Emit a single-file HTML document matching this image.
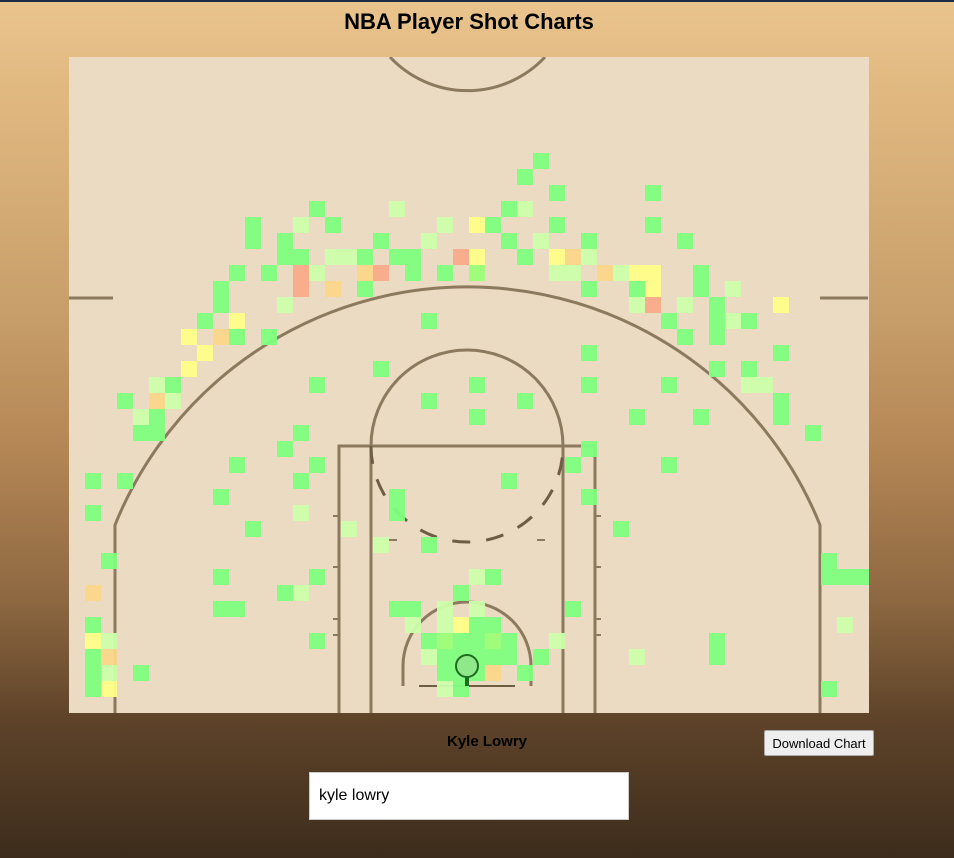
<!DOCTYPE html>
<html><head><meta charset="utf-8"><style>
html,body{margin:0;padding:0;}
body{width:954px;height:858px;overflow:hidden;position:relative;font-family:"Liberation Sans",sans-serif;
background:linear-gradient(180deg,#e9c48c 0px,#ddb57d 120px,#c9a06b 300px,#b48655 450px,#8d6841 600px,#5e4329 720px,#3d2c1c 858px);}
#topbar{position:absolute;left:0;top:0;width:954px;height:2px;background:#1d2b45;}
h1{position:absolute;left:0;top:9px;width:938px;margin:0;text-align:center;font-size:22px;font-weight:bold;color:#000;}
#chart{position:absolute;left:0;top:0;}
#player{position:absolute;left:387px;top:733px;width:200px;text-align:center;font-size:15px;font-weight:bold;color:#000;}
#dl{position:absolute;left:764px;top:730px;width:110px;height:26px;font-family:"Liberation Sans",sans-serif;font-size:13px;background:#eee;border:1px solid #aaa;border-radius:2px;padding:0;color:#000;}
#search{position:absolute;left:309px;top:772px;width:320px;height:48px;box-sizing:border-box;border:1px solid #ccc;background:#fff;font-family:"Liberation Sans",sans-serif;font-size:16px;padding:0 9px;color:#000;}
</style></head><body>
<div id="topbar"></div>
<h1>NBA Player Shot Charts</h1>
<svg id="chart" width="954" height="858">
<defs><clipPath id="cc"><rect x="69" y="57" width="800" height="656"/></clipPath></defs>
<rect x="69" y="57" width="800" height="656" fill="#ebdbc2"/>
<g id="court" fill="none" stroke="#8c7a5f" stroke-width="3" clip-path="url(#cc)">
<path d="M390,57 A106,106 0 0 0 545,57"/>
<line x1="69" y1="298" x2="113" y2="298"/>
<line x1="820" y1="298" x2="868" y2="298"/>
<path d="M115,716 L115,525 A380,380 0 0 1 820,525 L820,716"/>
<rect x="339" y="446" width="256" height="280"/>
<line x1="371" y1="446" x2="371" y2="716"/>
<line x1="563" y1="446" x2="563" y2="716"/>
<path d="M371,446 A96,96 0 0 1 563,446"/>
<path d="M371,446 A96,96 0 0 0 563,446" stroke="#6e5d45" stroke-dasharray="18,16"/>
<path d="M403,686 L403,666 A64,64 0 0 1 531,666 L531,686"/>
<line x1="419" y1="686" x2="515" y2="686" stroke="#6e5d45" stroke-width="2"/>
<g stroke-width="2">
<line x1="333" y1="516" x2="339" y2="516"/><line x1="333" y1="567" x2="339" y2="567"/><line x1="333" y1="619" x2="339" y2="619"/><line x1="333" y1="635" x2="339" y2="635"/>
<line x1="595" y1="516" x2="601" y2="516"/><line x1="595" y1="567" x2="601" y2="567"/><line x1="595" y1="619" x2="601" y2="619"/><line x1="595" y1="635" x2="601" y2="635"/>
<line x1="389" y1="540" x2="397" y2="540"/><line x1="537" y1="540" x2="545" y2="540"/>
</g>
</g>
<g id="cells"></g>
<g>
<circle cx="467" cy="666" r="11" fill="#8fe88a" stroke="#1f6b1f" stroke-width="2"/>
<line x1="467" y1="677" x2="467" y2="686" stroke="#1f6b1f" stroke-width="4"/>
</g>
</svg>
<div id="player">Kyle Lowry</div>
<button id="dl">Download Chart</button>
<input id="search" type="text" value="kyle lowry">
<script>
const shotCols = [15,20,11,11,14,16,23,13,19,22,13,14,16,17,18,20,21,24,10,12,14,15,18,19,21,23,9,14,16,18,9,13,8,10,22,7,9,10,12,8,7,19,5,6,15,3,5,6,22,4,5,4,5,14,13,
29,28,30,36,27,28,25,26,30,36,27,29,32,38,25,28,30,31,32,25,30,31,33,34,35,36,39,32,35,36,39,41,35,36,38,40,44,37,40,41,42,38,40,32,44,40,42,25,32,37,42,43,28,44,25,35,39,44,46,32,
10,15,1,3,14,9,20,1,14,20,11,17,19,22,2,9,15,1,13,14,24,9,10,20,21,23,1,21,23,24,1,2,15,22,23,24,1,2,22,23,24,1,2,4,23,24,1,2,23,24,
31,37,27,32,34,47,25,26,47,48,49,25,31,25,26,48,25,26,27,30,40,25,26,27,29,35,40,25,26,28,47];
const shotRows = [9,9,10,11,10,10,10,11,11,11,12,12,12,12,12,12,12,12,13,13,13,13,13,13,13,13,14,14,14,14,15,15,16,16,16,17,17,17,17,18,19,19,20,20,20,21,21,21,21,22,22,23,23,23,24,
6,7,8,8,9,9,10,10,10,10,11,11,11,11,12,12,12,12,12,13,13,13,13,13,13,13,13,14,14,14,14,14,15,15,15,15,15,16,16,16,16,17,17,18,18,19,19,20,20,20,20,20,21,21,22,22,22,22,23,24,
25,25,26,26,26,27,27,28,28,28,29,29,30,30,31,32,32,33,33,33,33,34,34,34,34,34,35,35,35,35,36,36,36,36,36,36,37,37,37,37,37,38,38,38,38,38,39,39,39,39,
25,25,26,27,29,31,32,32,32,32,32,34,34,35,35,35,36,36,36,36,36,37,37,37,37,37,37,38,38,38,39];
const shotLevels = [0,2,0,0,2,0,2,0,0,2,0,0,2,2,0,0,0,5,0,0,5,2,4,5,0,0,0,5,4,0,0,2,0,3,0,3,4,0,0,3,3,0,2,0,0,0,4,2,0,2,0,0,0,0,0,
0,0,0,0,0,2,3,0,0,0,0,2,0,0,3,0,3,4,2,1,2,2,4,2,3,3,0,0,0,3,0,2,2,5,2,0,3,0,0,2,0,0,0,0,0,0,0,0,0,0,2,2,0,0,0,0,0,0,0,0,
0,0,0,0,0,0,0,0,2,0,0,2,2,0,0,0,0,4,0,2,0,0,0,0,0,2,0,2,2,3,3,2,0,0,1,0,0,4,2,0,0,0,2,0,0,0,0,3,2,0,
0,0,0,0,0,0,2,0,0,0,0,2,0,0,0,2,0,1,0,2,0,0,0,0,0,2,0,0,4,0,0];
const levelColors = ["#80ff80","#9cff78","#ccffaa","#ffff88","#fcd68a","#f9ab8a"];
const gridX0 = 69, gridY0 = 57, cellSize = 16;
function xScale(c){ return gridX0 + c*cellSize; }
function yScale(r){ return gridY0 + r*cellSize; }
const g = document.getElementById('cells');
for (let i = 0; i < shotCols.length; i++) {
  const el = document.createElementNS('http://www.w3.org/2000/svg','rect');
  el.setAttribute('x', xScale(shotCols[i]));
  el.setAttribute('y', yScale(shotRows[i]));
  el.setAttribute('width', cellSize);
  el.setAttribute('height', cellSize);
  el.setAttribute('fill', levelColors[shotLevels[i]]);
  el.setAttribute('fill-opacity', '0.95');
  
  
  g.appendChild(el);
}
</script>
</body></html>
